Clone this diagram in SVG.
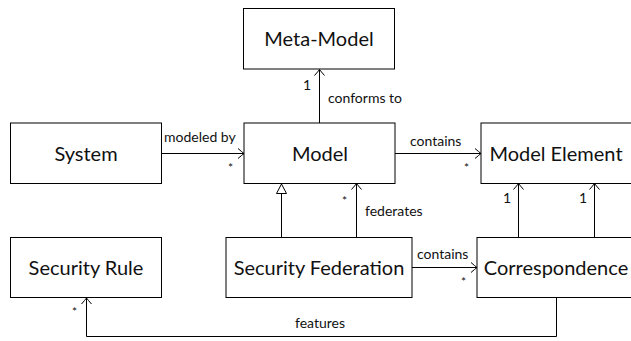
<svg xmlns="http://www.w3.org/2000/svg" width="631" height="341" viewBox="0 0 631 341">
<style>
.box{fill:#fff;stroke:#000;stroke-width:1}
.nt{font-family:Lato,"Open Sans",sans-serif;font-size:20px;font-weight:400;fill:#111;text-anchor:middle}
.lb{font-family:Lato,"Open Sans",sans-serif;font-size:14px;font-weight:400;fill:#111}
.st{font-family:Lato,"Open Sans",sans-serif;font-size:12px;font-weight:400;fill:#111}
.cn{fill:none;stroke:#000;stroke-width:1}
</style>
<defs>
<marker id="open" viewBox="-8 -6 10 12" markerWidth="10" markerHeight="12" refX="0" refY="0" orient="auto" markerUnits="userSpaceOnUse">
<path d="M-6,-5 Q-2,-1.5 0,0 Q-2,1.5 -6,5" fill="none" stroke="#000" stroke-width="1"/>
</marker>
</defs>
<rect width="631" height="341" fill="#fff"/>
<g id="connectors">
<line class="cn" x1="319.5" y1="123" x2="319.5" y2="69.5" marker-end="url(#open)"/>
<line class="cn" x1="161.5" y1="153.5" x2="244" y2="153.5" marker-end="url(#open)"/>
<line class="cn" x1="395" y1="153.5" x2="481" y2="153.5" marker-end="url(#open)"/>
<line class="cn" x1="281.5" y1="237.5" x2="281.5" y2="193.5"/>
<path class="cn" d="M276.5,193.5 L281.5,184 L286.5,193.5 Z"/>
<line class="cn" x1="356.5" y1="237.5" x2="356.5" y2="183.5" marker-end="url(#open)"/>
<line class="cn" x1="518.5" y1="237.5" x2="518.5" y2="183.5" marker-end="url(#open)"/>
<line class="cn" x1="594.5" y1="237.5" x2="594.5" y2="183.5" marker-end="url(#open)"/>
<line class="cn" x1="412" y1="267.5" x2="477" y2="267.5" marker-end="url(#open)"/>
<polyline class="cn" points="556.5,297.5 556.5,336.5 86.5,336.5 86.5,298" marker-end="url(#open)"/>
<text class="lb" x="303" y="90">1</text>
<text class="lb" x="328" y="103">conforms to</text>
<text class="lb" x="164" y="142">modeled by</text>
<text class="st" x="228" y="172">*</text>
<text class="lb" x="410" y="146">contains</text>
<text class="st" x="464" y="172">*</text>
<text class="st" x="342" y="205">*</text>
<text class="lb" x="365" y="216">federates</text>
<text class="lb" x="503" y="203">1</text>
<text class="lb" x="579" y="203">1</text>
<text class="lb" x="417" y="259">contains</text>
<text class="st" x="461" y="286">*</text>
<text class="st" x="72" y="316">*</text>
<text class="lb" x="295" y="328">features</text>
</g>
<g id="meta-model"><rect class="box" x="243.5" y="8.5" width="151" height="60.5"/><text class="nt" x="319" y="46">Meta-Model</text></g>
<g id="system"><rect class="box" x="10.5" y="123" width="151" height="60.5"/><text class="nt" x="86" y="161">System</text></g>
<g id="model"><rect class="box" x="244" y="123" width="151" height="60.5"/><text class="nt" x="320" y="161">Model</text></g>
<g id="model-element"><rect class="box" x="481" y="123" width="152" height="60.5"/><text class="nt" x="556" y="161">Model Element</text></g>
<g id="security-rule"><rect class="box" x="10.5" y="237.5" width="151" height="60"/><text class="nt" x="86" y="275">Security Rule</text></g>
<g id="security-federation"><rect class="box" x="226" y="237.5" width="186" height="60"/><text class="nt" x="319" y="275">Security Federation</text></g>
<g id="correspondence"><rect class="box" x="477" y="237.5" width="156" height="60"/><text class="nt" x="556" y="275">Correspondence</text></g>
</svg>
